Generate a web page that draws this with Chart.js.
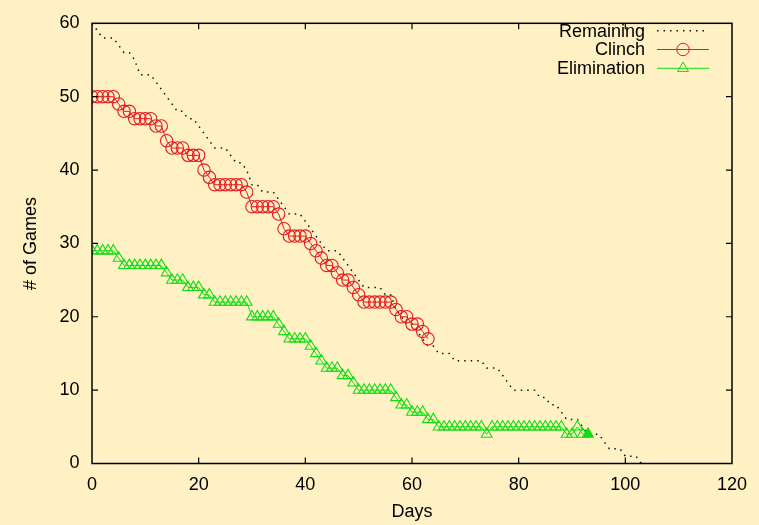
<!DOCTYPE html>
<html><head><meta charset="utf-8">
<script src="https://cdn.jsdelivr.net/npm/chart.js@4.4.0/dist/chart.umd.min.js"></script>
<style>html,body{margin:0;padding:0;background:#FFF1C4;} canvas{display:block;}</style>
</head><body>
<canvas id="c" width="759" height="525"></canvas>
<script>
const days = [0,1,2,3,4,5,6,7,8,9,10,11,12,13,14,15,16,17,18,19,20,21,22,23,24,25,26,27,28,29,30,31,32,33,34,35,36,37,38,39,40,41,42,43,44,45,46,47,48,49,50,51,52,53,54,55,56,57,58,59,60,61,62,63,64,65,66,67,68,69,70,71,72,73,74,75,76,77,78,79,80,81,82,83,84,85,86,87,88,89,90,91,92,93,94,95,96,97,98,99,100,101,102,103];
const remaining = [60,59,58,58,58,57,56,56,55,53,
  53,53,52,51,50,49,48,48,47,47,
  46,45,44,43,43,43,42,41,41,40,
  38,38,37,37,37,36,35,34,34,34,
  33,32,31,30,29,29,29,28,27,26,
  25,24,24,24,24,23,23,21,20,19,
  19,18,17,16,16,15,15,15,14,14,
  14,14,14,14,13,13,13,12,11,10,
  10,10,10,10,9,9,8,8,7,6,
  6,6,5,4,4,4,3,2,2,2,
  1,1,1,0];
const clinch = [50,50,50,50,50,49,48,48,47,47,
  47,47,46,46,44,43,43,43,42,42,
  42,40,39,38,38,38,38,38,38,37,
  35,35,35,35,35,34,32,31,31,31,
  31,30,29,28,27,27,26,25,25,24,
  23,22,22,22,22,22,22,21,20,20,
  19,19,18,17];
const elimination = [29,29,29,29,29,28,27,27,27,27,
  27,27,27,27,26,25,25,25,24,24,
  24,23,23,22,22,22,22,22,22,22,
  20,20,20,20,20,19,18,17,17,17,
  17,16,15,14,13,13,13,12,12,11,
  10,10,10,10,10,10,10,9,8,8,
  7,7,7,6,6,5,5,5,5,5,
  5,5,5,5,4,5,5,5,5,5,
  5,5,5,5,5,5,5,5,5,4,
  4,5,4,4];
const xTicks = [0,20,40,60,80,100,120];
const yTicks = [0,10,20,30,40,50,60];
const seriesNames = ['Remaining','Clinch','Elimination'];
const xTitle = 'Days';
const yTitle = '# of Games';

const BG = '#FFF1C4';
const RED = '#E41A1E';
const GREEN = '#12DE12';
const FONT = '"Liberation Sans", Arial, Helvetica, sans-serif';

function pts(vals){ return vals.map((v,i)=>({x:days[i], y:v})); }

const elimFill = elimination.map((v,i)=> i===elimination.length-1 ? GREEN : 'rgba(0,0,0,0)');

const bgPlugin = {
  id:'bg',
  beforeDraw(chart){
    const ctx = chart.ctx;
    ctx.save(); ctx.fillStyle = BG; ctx.fillRect(0,0,chart.width,chart.height); ctx.restore();
  }
};

const framePlugin = {
  id:'frame',
  afterDraw(chart){
    const ctx = chart.ctx;
    const {left,right,top,bottom} = chart.chartArea;
    const xs = chart.scales.x, ys = chart.scales.y;
    ctx.save();
    ctx.strokeStyle = '#000';
    ctx.lineWidth = 1.5;
    ctx.strokeRect(left, top, right-left, bottom-top);
    ctx.lineWidth = 1.2;
    ctx.beginPath();
    xTicks.forEach(v=>{
      const px = xs.getPixelForValue(v);
      if (v!==xTicks[0] && v!==xTicks[xTicks.length-1]) {
        ctx.moveTo(px,bottom); ctx.lineTo(px,bottom-6);
        ctx.moveTo(px,top); ctx.lineTo(px,top+6);
      }
    });
    yTicks.forEach(v=>{
      const py = ys.getPixelForValue(v);
      if (v!==yTicks[0] && v!==yTicks[yTicks.length-1]) {
        ctx.moveTo(left,py); ctx.lineTo(left+6,py);
        ctx.moveTo(right,py); ctx.lineTo(right-6,py);
      }
    });
    ctx.stroke();
    ctx.restore();
  }
};

const legendPlugin = {
  id:'gpLegend',
  afterDatasetsDraw(chart){
    const ctx = chart.ctx;
    const rows = [30.7, 49.5, 68.3];
    const textRight = 645, x0 = 657, x1 = 709, xm = 683;
    ctx.save();
    ctx.font = '18px ' + FONT;
    ctx.textAlign = 'right';
    ctx.textBaseline = 'middle';
    chart.data.datasets.forEach((ds,i)=>{
      const y = rows[i];
      ctx.fillStyle = '#000';
      ctx.fillText(ds.label, textRight, y+1);
      ctx.strokeStyle = ds.borderColor;
      ctx.lineWidth = ds.borderWidth;
      ctx.setLineDash(ds.borderDash || []);
      ctx.beginPath(); ctx.moveTo(x0,y); ctx.lineTo(x1,y); ctx.stroke();
      ctx.setLineDash([]);
      if (ds.pointRadius > 0) {
        ctx.fillStyle = 'rgba(0,0,0,0)';
        ctx.lineWidth = 1;
        Chart.helpers.drawPoint(ctx, {pointStyle: ds.pointStyle, radius: ds.pointRadius, borderWidth: 1, rotation: 0}, xm, y);
      }
    });
    ctx.restore();
  }
};

new Chart(document.getElementById('c'), {
  type: 'line',
  data: {
    datasets: [
      {label: seriesNames[0], data: pts(remaining), borderColor: '#111', borderWidth: 1.5,
       borderDash: [1.5, 5], pointRadius: 0, fill: false, tension: 0, order: 3},
      {label: seriesNames[1], data: pts(clinch), borderColor: RED, borderWidth: 1,
       pointStyle: 'circle', pointRadius: 6.2, pointBorderWidth: 1.1, pointBorderColor: RED,
       pointBackgroundColor: 'rgba(0,0,0,0)', fill: false, tension: 0, order: 2},
      {label: seriesNames[2], data: pts(elimination), borderColor: GREEN, borderWidth: 1,
       pointStyle: 'triangle', pointRadius: 6.3, pointBorderWidth: 1.1, pointBorderColor: GREEN,
       pointBackgroundColor: elimFill, fill: false, tension: 0, order: 1}
    ]
  },
  options: {
    responsive: false,
    animation: false,
    events: [],
    layout: {padding: {top: 15, right: 27, left: 0, bottom: 0}},
    plugins: {legend: {display: false}, tooltip: {enabled: false}},
    scales: {
      x: {
        type: 'linear', min: 0, max: 120,
        afterBuildTicks: s => { s.ticks = xTicks.map(v => ({value: v})); },
        afterFit: s => { s.height = 61.5; },
        grid: {display: false, drawTicks: false},
        border: {display: false},
        ticks: {color: '#000', font: {family: FONT, size: 18}, padding: 11, maxRotation: 0, autoSkip: false},
        title: {display: true, text: xTitle, color: '#000', font: {family: FONT, size: 18}, padding: {top: 0, bottom: 2}}
      },
      y: {
        type: 'linear', min: 0, max: 60,
        afterBuildTicks: s => { s.ticks = yTicks.map(v => ({value: v})); },
        afterFit: s => { s.width = 92; },
        grid: {display: false, drawTicks: false},
        border: {display: false},
        ticks: {color: '#000', font: {family: FONT, size: 18}, padding: 12.5, autoSkip: false},
        title: {display: true, text: yTitle, color: '#000', font: {family: FONT, size: 18}, padding: {top: 20, bottom: 0}}
      }
    }
  },
  plugins: [bgPlugin, legendPlugin, framePlugin]
});
</script>
</body></html>
